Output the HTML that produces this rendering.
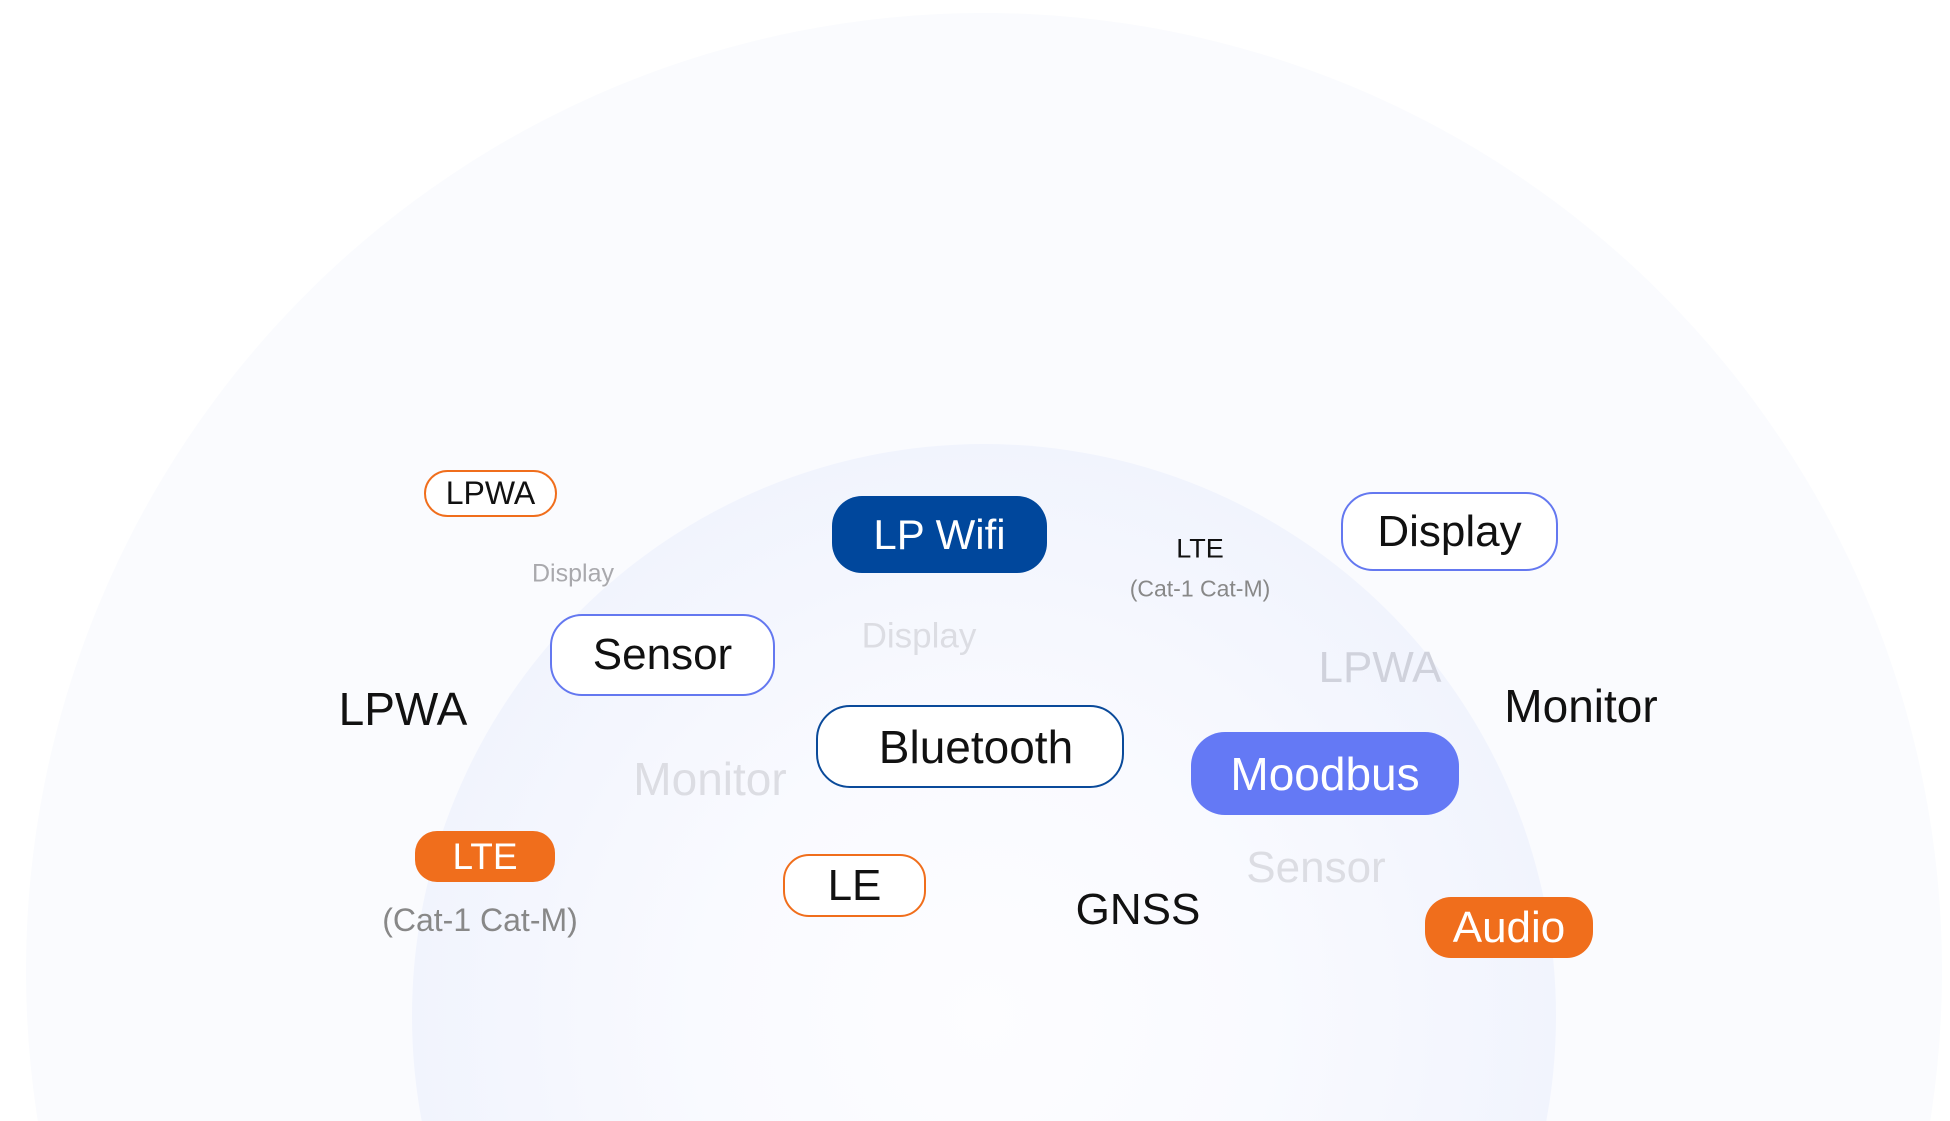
<!DOCTYPE html>
<html><head><meta charset="utf-8"><style>
html,body{margin:0;padding:0;width:1950px;height:1121px;overflow:hidden}
body{background:#fff;font-family:"Liberation Sans","DejaVu Sans",sans-serif}
#w{position:relative;width:1950px;height:1121px;overflow:hidden;background:#fff}
svg.bg{position:absolute;left:0;top:0}
.b{position:absolute;box-sizing:border-box;display:flex;align-items:center;justify-content:center;white-space:nowrap}
.t{position:absolute;transform:translate(-50%,-50%);white-space:nowrap;line-height:1}
</style></head><body><div id="w">
<svg class="bg" width="1950" height="1121" viewBox="0 0 1950 1121">
<defs><radialGradient id="g" cx="0.5" cy="0.5" r="0.5">
<stop offset="0" stop-color="#fdfdff"/><stop offset="0.5" stop-color="#f9faff"/><stop offset="1" stop-color="#f1f4fd"/></radialGradient></defs>
<circle cx="984" cy="971" r="958" fill="#fafbfe"/>
<circle cx="984" cy="1016" r="572" fill="url(#g)"/>
</svg>

<div class="b" style="left:424px;top:470px;width:133px;height:47px;border:2.5px solid #f06e1c;border-radius:24px;background:#fff;font-size:32px;color:#111">LPWA</div>
<div class="t" style="left:573px;top:574px;font-size:25px;color:#a9a9ad">Display</div>
<div class="b" style="left:832px;top:496px;width:215px;height:77px;background:#00479c;border-radius:30px;font-size:42px;color:#fff">LP Wifi</div>
<div class="t" style="left:1200px;top:549px;font-size:27px;color:#111">LTE</div>
<div class="t" style="left:1200px;top:589px;font-size:23px;color:#888">(Cat-1 Cat-M)</div>
<div class="b" style="left:1341px;top:492px;width:217px;height:79px;border:2.5px solid #6478f0;border-radius:32px;background:#fff;font-size:44px;color:#111">Display</div>
<div class="b" style="left:550px;top:614px;width:225px;height:82px;border:2.5px solid #6478f0;border-radius:32px;background:#fff;font-size:44px;color:#111">Sensor</div>
<div class="t" style="left:919px;top:636px;font-size:35px;color:#dcdde3">Display</div>
<div class="t" style="left:403px;top:709px;font-size:46px;color:#111">LPWA</div>
<div class="t" style="left:1380px;top:668px;font-size:44px;color:#d0d2dc">LPWA</div>
<div class="t" style="left:1581px;top:706px;font-size:46px;color:#111">Monitor</div>
<div class="b" style="left:816px;top:705px;width:308px;height:83px;border:2.5px solid #0a4a9a;border-radius:34px;background:#fff;font-size:46px;color:#111;padding-left:12px">Bluetooth</div>
<div class="t" style="left:710px;top:779px;font-size:46px;color:#dcdde3">Monitor</div>
<div class="b" style="left:1191px;top:732px;width:268px;height:83px;background:#6479f5;border-radius:34px;font-size:46px;color:#fff">Moodbus</div>
<div class="b" style="left:415px;top:831px;width:140px;height:51px;background:#f06e1c;border-radius:22px;font-size:37px;color:#fff">LTE</div>
<div class="t" style="left:480px;top:920px;font-size:32px;color:#888">(Cat-1 Cat-M)</div>
<div class="b" style="left:783px;top:854px;width:143px;height:63px;border:2.5px solid #f06e1c;border-radius:26px;background:#fff;font-size:44px;color:#111">LE</div>
<div class="t" style="left:1138px;top:910px;font-size:44px;color:#111">GNSS</div>
<div class="t" style="left:1316px;top:868px;font-size:44px;color:#dcdde3">Sensor</div>
<div class="b" style="left:1425px;top:897px;width:168px;height:61px;background:#f06e1c;border-radius:26px;font-size:44px;color:#fff">Audio</div>
</div></body></html>
